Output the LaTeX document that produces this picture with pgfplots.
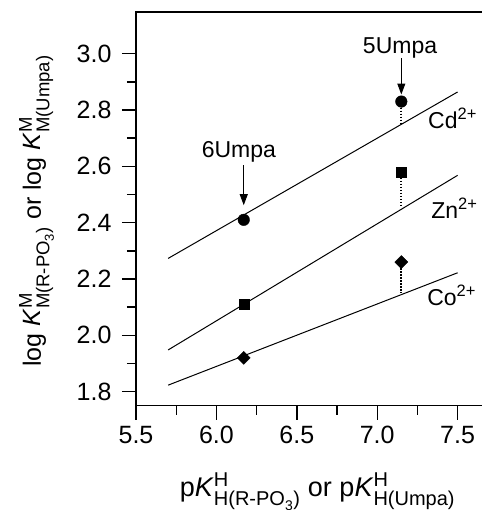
\documentclass[border=0pt]{standalone}
\usepackage{amsmath}
\usepackage{fontspec}
\setmainfont{Liberation Sans}
\usepackage{pgfplots}
\pgfplotsset{compat=1.18}
\usetikzlibrary{arrows.meta}

\DeclareMathSizes{23}{23}{16.5}{12}
\DeclareMathSizes{25}{25}{18.5}{13}
\DeclareMathSizes{27}{27}{20}{14}
\newcommand{\chartfont}{\fontsize{23}{27}\selectfont}
\newcommand{\tickfont}{\fontsize{25}{29}\selectfont}
\newcommand{\labelfont}{\fontsize{27}{32}\selectfont}
\newcommand{\ylabelfont}{\fontsize{25}{29}\selectfont}

\begin{document}
\begin{tikzpicture}
\begin{axis}[
  at={(0,0)}, anchor=south west,
  scale only axis, width=361.8pt, height=393.7pt,
  xmin=5.5, xmax=7.75, ymin=1.75, ymax=3.148,
  xtick={5.5,6.0,6.5,7.0,7.5}, ytick={1.8,2.0,2.2,2.4,2.6,2.8,3.0},
  minor x tick num=1, minor y tick num=1,
  tick align=outside, tick pos=left,
  major tick length=14pt, minor tick length=9pt,
  axis line style={line width=1.6pt},
  every tick/.style={line width=1.4pt, black},
  /pgf/number format/assume math mode=true,
  /pgf/number format/.cd, fixed, fixed zerofill, precision=1, /pgfplots/.cd,
  tick label style={font=\tickfont},
  xticklabel style={yshift=-3pt},
  yticklabel style={xshift=-7pt},
  xlabel={p\textit{K}$^{\text{H}}_{\text{H(R-PO}_{\text{3}}\text{)}}$ or p\textit{K}$^{\text{H}}_{\text{H(Umpa)}}$},
  ylabel={log \textit{K}$^{\text{M}}_{\text{M(R-PO}_{\text{3}}\text{)}}$ or log \textit{K}$^{\text{M}}_{\text{M(Umpa)}}$},
  xlabel style={font=\labelfont, at={(axis description cs:0.5017,-0.2294)}, anchor=base},
  ylabel style={font=\ylabelfont, at={(axis description cs:-0.2626,0.4945)}, anchor=base},
  clip=false,
]
% fitted lines
\addplot[black, line width=1pt] coordinates {(5.7,2.273) (7.5,2.864)};
\addplot[black, line width=1pt] coordinates {(5.7,1.948) (7.5,2.568)};
\addplot[black, line width=1pt] coordinates {(5.7,1.823) (7.5,2.222)};
% dotted deviations
\addplot[black, line width=1.8pt, dash pattern=on 1.5pt off 1.5pt] coordinates {(7.15,2.83) (7.15,2.752)};
\addplot[black, line width=1.8pt, dash pattern=on 1.5pt off 1.5pt] coordinates {(7.15,2.58) (7.15,2.461)};
\addplot[black, line width=1.8pt, dash pattern=on 1.5pt off 1.5pt] coordinates {(7.15,2.26) (7.15,2.153)};
% data points
\addplot[only marks, mark=*, mark size=5.8pt, black] coordinates {(6.17,2.41) (7.15,2.83)};
\addplot[only marks, mark=square*, mark size=5pt, black] coordinates {(6.17,2.11) (7.15,2.58)};
\addplot[only marks, mark=square*, mark size=4.6pt, mark options={rotate=45}, black] coordinates {(6.17,1.92) (7.15,2.26)};
% annotations
\draw[line width=1pt, -{Triangle[length=11pt,width=8pt]}] (axis cs:6.17,2.604) -- (axis cs:6.17,2.462);
\draw[line width=1pt, -{Triangle[length=11pt,width=8pt]}] (axis cs:7.15,2.983) -- (axis cs:7.15,2.855);
\node[font=\chartfont, anchor=base] at (axis cs:6.14,2.632) {6Umpa};
\node[font=\chartfont, anchor=base] at (axis cs:7.142,3.001) {5Umpa};
\node[font=\chartfont, anchor=base west, inner sep=0pt] at (axis cs:7.316,2.735) {Cd$^{\text{2+}}$};
\node[font=\chartfont, anchor=base west, inner sep=0pt] at (axis cs:7.335,2.415) {Zn$^{\text{2+}}$};
\node[font=\chartfont, anchor=base west, inner sep=0pt] at (axis cs:7.31,2.106) {Co$^{\text{2+}}$};
\end{axis}
\pgfresetboundingbox
\useasboundingbox (-136pt,-104.3pt) rectangle (345pt,405.7pt);
\end{tikzpicture}
\end{document}
